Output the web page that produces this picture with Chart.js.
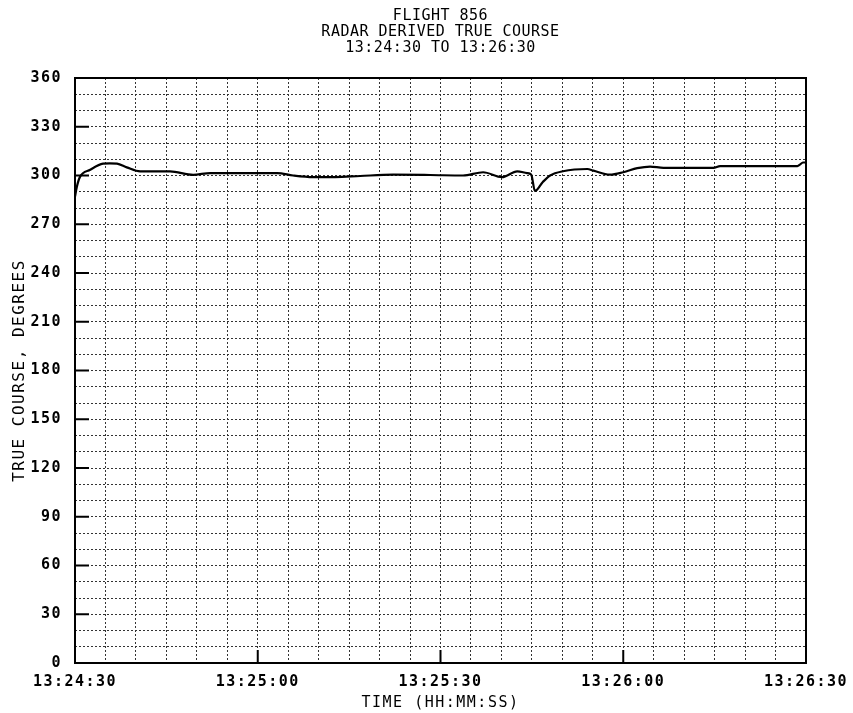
<!DOCTYPE html>
<html>
<head>
<meta charset="utf-8">
<title>Flight 856 - Radar derived true course</title>
<script src="https://cdn.jsdelivr.net/npm/chart.js@4.4.0/dist/chart.umd.min.js"></script>
<style>
  html, body { margin: 0; padding: 0; background: #fff; }
  #wrap { width: 853px; height: 713px; }
</style>
</head>
<body>
<div id="wrap"><canvas id="c" width="853" height="713"></canvas></div>
<script>
// seconds after 13:24:30
const timeSec = [0, 0.3, 0.8, 2.5, 4.6, 5.7, 6.9, 8.5, 10.7, 15.6, 19.4, 22.2, 33.2, 35.8, 39.1, 42.7, 46.8, 52.2, 58.3, 63.7, 67, 70.1, 72.6, 74.2, 74.9, 75.5, 76.8, 78, 80.1, 84.1, 85.1, 87.8, 90, 92.3, 94.4, 96.6, 104.8, 105.9, 118.6, 119, 119.5, 120];
// true course, degrees
const course = [287, 293, 299, 303.5, 307.3, 307.5, 307.3, 305, 302.5, 302.5, 300.4, 301.5, 301.5, 300, 299, 299, 299.7, 300.5, 300.3, 300, 302, 299, 302.6, 301.5, 300.5, 290.5, 296, 300, 302.6, 304, 303, 300.5, 302, 304.5, 305.5, 304.7, 304.7, 305.8, 305.8, 306.7, 308, 308];

const xTickSec = [0, 30, 60, 90, 120];
const xTickLabels = ['13:24:30', '13:25:00', '13:25:30', '13:26:00', '13:26:30'];
const yTicks = [0, 30, 60, 90, 120, 150, 180, 210, 240, 270, 300, 330, 360];
const titleLines = ['FLIGHT 856', 'RADAR DERIVED TRUE COURSE', '13:24:30 TO 13:26:30'];

const FONT = "'DejaVu Sans Mono', 'Liberation Mono', monospace";

// plotter look: spaced letters, box frame, inward major ticks, centred title
const plotter = {
  id: 'plotter',
  beforeUpdate(chart) { chart.ctx.letterSpacing = '1.5px'; },
  beforeDraw(chart) {
    const ctx = chart.ctx;
    ctx.save();
    ctx.fillStyle = '#fff';
    ctx.fillRect(0, 0, chart.width, chart.height);
    ctx.restore();
    ctx.letterSpacing = '1.5px';
  },
  afterDraw(chart) {
    const ctx = chart.ctx;
    const a = chart.chartArea;
    const xs = chart.scales.x, ys = chart.scales.y;
    ctx.save();
    ctx.strokeStyle = '#000';
    ctx.lineWidth = 2;
    ctx.strokeRect(a.left, a.top, a.right - a.left, a.bottom - a.top);
    ctx.beginPath();
    yTicks.forEach(v => {
      const y = ys.getPixelForValue(v);
      ctx.moveTo(a.left, y); ctx.lineTo(a.left + 14, y);
    });
    xTickSec.forEach(v => {
      const x = xs.getPixelForValue(v);
      ctx.moveTo(x, a.bottom); ctx.lineTo(x, a.bottom - 13);
    });
    ctx.stroke();

    ctx.fillStyle = '#000';
    ctx.font = '15px ' + FONT;
    ctx.letterSpacing = '0.5px';
    ctx.textAlign = 'center';
    ctx.textBaseline = 'middle';
    const cx = (a.left + a.right) / 2;
    [16, 32, 48].forEach((y, i) => ctx.fillText(titleLines[i], cx, y));
    ctx.restore();
  }
};

const tickFont = { family: FONT, size: 15, weight: 'bold' };

new Chart(document.getElementById('c'), {
  type: 'line',
  data: {
    datasets: [{
      data: timeSec.map((t, i) => ({ x: t, y: course[i] })),
      borderColor: '#000',
      borderWidth: 2.2,
      pointRadius: 0,
      cubicInterpolationMode: 'monotone',
      fill: false
    }]
  },
  options: {
    responsive: false,
    animation: false,
    layout: { padding: { top: 78, right: 47, left: 0, bottom: 0 } },
    plugins: { legend: { display: false }, tooltip: { enabled: false }, title: { display: false } },
    scales: {
      x: {
        type: 'linear', min: 0, max: 120,
        afterFit: s => { s.height = 50; s.paddingLeft = 0; s.paddingRight = 0; },
        grid: { color: '#333', lineWidth: 1, drawTicks: false },
        border: { display: false, dash: [2, 2] },
        ticks: {
          stepSize: 5, autoSkip: false, maxRotation: 0, padding: 10,
          color: '#000', font: tickFont,
          callback: v => (v % 30 === 0 ? xTickLabels[v / 30] : '')
        },
        title: { display: true, text: 'TIME (HH:MM:SS)', color: '#000', font: { family: FONT, size: 15 }, padding: { top: 0, bottom: 1 } }
      },
      y: {
        min: 0, max: 360,
        afterFit: s => { s.width = 75; s.paddingTop = 0; s.paddingBottom = 0; },
        grid: { color: '#333', lineWidth: 1, drawTicks: false },
        border: { display: false, dash: [2, 2] },
        ticks: {
          stepSize: 10, autoSkip: false, padding: 13,
          color: '#000', font: tickFont,
          callback: v => (v % 30 === 0 ? String(v) : '')
        },
        title: { display: true, text: 'TRUE COURSE, DEGREES', color: '#000', font: { family: FONT, size: 16 }, padding: { top: 10, bottom: 0 } }
      }
    }
  },
  plugins: [plotter]
});
</script>
</body>
</html>
